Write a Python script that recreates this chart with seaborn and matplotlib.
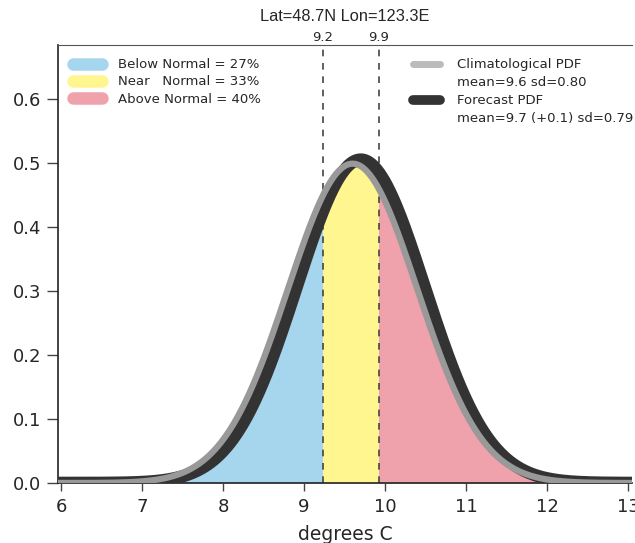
import numpy as np
import pandas as pd
import matplotlib
matplotlib.use("Agg")
import matplotlib.pyplot as plt
from matplotlib.lines import Line2D
import seaborn as sns

# Distribution parameters
series_names = ["Climatological PDF", "Forecast PDF"]
series_means = [9.6, 9.7]
series_sds = [0.80, 0.79]
series_notes = ["mean=9.6 sd=0.80", "mean=9.7 (+0.1) sd=0.79"]

# Tercile boundaries and category probabilities
thresholds = [9.23, 9.92]
threshold_labels = ["9.2", "9.9"]
category_names = ["Below Normal = 27%", "Near   Normal = 33%", "Above Normal = 40%"]
category_colors = ["#a6d5ee", "#fff68f", "#efa1ac"]

x_ticks = [6, 7, 8, 9, 10, 11, 12, 13]
y_ticks = [0.0, 0.1, 0.2, 0.3, 0.4, 0.5, 0.6]

# PDF curves from the stated mean / sd
xs = np.linspace(5.5, 13.5, 801)
frames = []
for name, mu, sd in zip(series_names, series_means, series_sds):
    pdf = np.exp(-0.5 * ((xs - mu) / sd) ** 2) / (sd * np.sqrt(2 * np.pi))
    frames.append(pd.DataFrame({"x": xs, "pdf": pdf, "series": name}))
df = pd.concat(frames, ignore_index=True)
fc = df[df["series"] == "Forecast PDF"]

sns.set_style("ticks")
plt.rcParams["font.family"] = ["DejaVu Sans"]
wide = ["DejaVu Sans"]
narrow = ["Liberation Sans", "DejaVu Sans"]

fig = plt.figure(figsize=(6.35, 5.43), dpi=100)
ax = fig.add_axes([58 / 635, 60 / 543, 0.904, 438 / 543])

# shaded tercile areas under the forecast PDF
edges = [xs.min()] + thresholds + [xs.max()]
for i, col in enumerate(category_colors):
    m = (fc["x"] >= edges[i]) & (fc["x"] <= edges[i + 1])
    ax.fill_between(fc["x"][m], 0, fc["pdf"][m], color=col, lw=0, zorder=1)

sns.lineplot(data=fc, x="x", y="pdf", color="#333333", lw=9, ax=ax,
             zorder=3, solid_capstyle="butt")
sns.lineplot(data=df[df["series"] == "Climatological PDF"], x="x", y="pdf",
             color="#999999", lw=4.5, ax=ax, zorder=4)

for t, lab in zip(thresholds, threshold_labels):
    ax.axvline(t, color="#444444", lw=1.2, ls=(0, (4, 4)), zorder=2)
    ax.text(t, 1.002, lab, transform=ax.get_xaxis_transform(),
            ha="center", va="bottom", fontsize=9.5, family=wide)

ax.set_xlim(5.963, 13.05)
ax.set_ylim(0, 0.684)
ax.set_xticks(x_ticks)
ax.set_yticks(y_ticks)
ax.set_yticklabels([f"{v:.1f}" for v in y_ticks])
ax.tick_params(axis="y", labelsize=13, length=8, width=1, pad=4, color="#444444")
ax.tick_params(axis="x", labelsize=13, length=6, width=1, pad=5, color="#444444")
ax.set_xlabel("degrees C", fontsize=13.5, labelpad=6, family=wide)
ax.set_ylabel("")
ax.set_title("Lat=48.7N Lon=123.3E", fontsize=11.8, pad=17, family=narrow)
ax.spines["right"].set_visible(False)
for s in ["left", "bottom"]:
    ax.spines[s].set_color("#222222")
    ax.spines[s].set_linewidth(1.2)
ax.spines["top"].set_color("#555555")

# legends
cat_handles = [Line2D([], [], color=c, lw=9, solid_capstyle="round")
               for c in category_colors]
leg1 = ax.legend(cat_handles, category_names, loc="upper left",
                 frameon=False, prop={"size": 9.5, "family": wide},
                 handlelength=2.2, handletextpad=1.2, labelspacing=0.33,
                 borderaxespad=0, borderpad=0,
                 bbox_to_anchor=(0.026, 0.970))
ax.add_artist(leg1)

blank = Line2D([], [], lw=0)
pdf_handles = [Line2D([], [], color="#bbbbbb", lw=5, solid_capstyle="round"), blank,
               Line2D([], [], color="#333333", lw=7, solid_capstyle="round"), blank]
pdf_labels = [series_names[0], series_notes[0], series_names[1], series_notes[1]]
ax.legend(pdf_handles, pdf_labels, loc="upper left", frameon=False,
          prop={"size": 9.5, "family": wide},
          handlelength=2.1, handletextpad=1.25, labelspacing=0.38,
          borderaxespad=0, borderpad=0,
          bbox_to_anchor=(0.618, 0.970))

fig.savefig("out.png", dpi=100)
